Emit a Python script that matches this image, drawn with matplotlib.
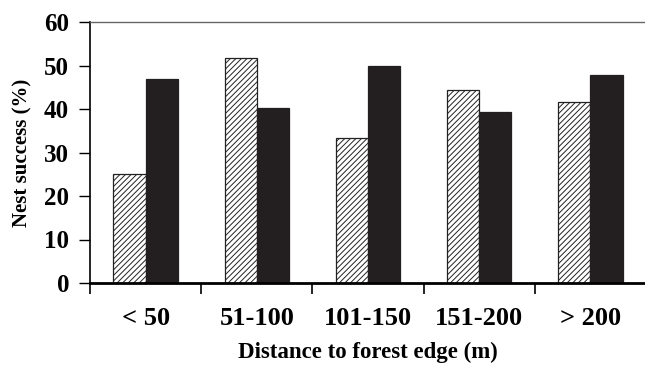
import matplotlib
matplotlib.use("Agg")
import matplotlib.pyplot as plt
import numpy as np

# data
categories = ["< 50", "51-100", "101-150", "151-200", "> 200"]
hatched_vals = [25.0, 51.7, 33.4, 44.4, 41.7]
black_vals = [46.8, 40.2, 50.0, 39.4, 47.8]

plt.rcParams["font.family"] = ["Liberation Serif", "DejaVu Serif"]
plt.rcParams["hatch.linewidth"] = 0.7
plt.rcParams["hatch.color"] = "#3a3a3a"

fig = plt.figure(figsize=(6.45, 3.68), dpi=100)
ax = fig.add_axes([90 / 645, 1 - 283 / 368, 556 / 645, 261 / 368])

x = np.arange(len(categories))
w = 0.29
ax.bar(x - w / 2, hatched_vals, w, color="white", edgecolor="#222222",
       linewidth=0.9, hatch="//////")
ax.bar(x + w / 2, black_vals, w, color="#231f20", edgecolor="#231f20",
       linewidth=0.9)

ax.set_xlim(-0.5, len(categories) - 0.5)
ax.set_ylim(0, 60)
ax.set_yticks(range(0, 61, 10))

# category labels centred, ticks at group boundaries
ax.set_xticks(np.arange(-0.5, len(categories), 1.0))
ax.set_xticklabels([])
ax.set_xticks(x, minor=True)
ax.set_xticklabels(categories, minor=True, fontsize=19, fontweight="bold")
ax.tick_params(axis="x", which="minor", length=0, pad=17)
ax.tick_params(axis="x", which="major", length=8, width=1.2, direction="out")
ax.tick_params(axis="y", length=8, width=1.0, direction="out", pad=7,
               labelsize=18)
for lab in ax.get_yticklabels():
    lab.set_fontweight("bold")

ax.spines["right"].set_visible(False)
ax.spines["top"].set_color("#666666")
ax.spines["top"].set_linewidth(1.0)
ax.spines["left"].set_linewidth(1.2)
ax.spines["bottom"].set_linewidth(2.0)

ax.set_xlabel("Distance to forest edge (m)", fontsize=16.5, fontweight="bold",
              labelpad=9)
ax.set_ylabel("Nest success (%)", fontsize=15, fontweight="bold", labelpad=8)

fig.savefig("out.png", dpi=100)
plt.close(fig)
